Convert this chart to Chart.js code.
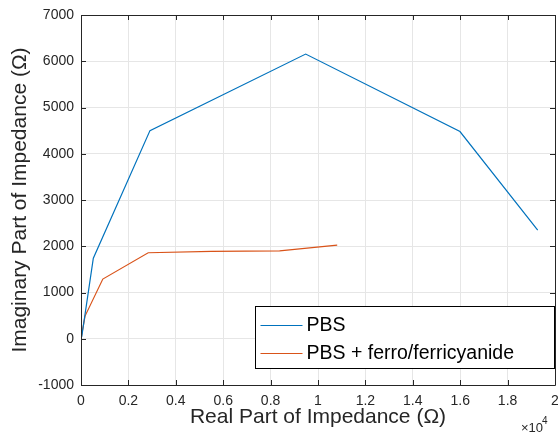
<!DOCTYPE html>
<html lang="en">
<head>
<meta charset="UTF-8" />
<title>Impedance</title>
<script src="https://cdn.jsdelivr.net/npm/chart.js"></script>
<style>
  html, body { margin: 0; padding: 0; background: #ffffff; }
  #wrap { width: 558px; height: 438px; }
</style>
</head>
<body>
<div id="wrap"><canvas id="nyquist" width="558" height="438"></canvas></div>
<script>
  // data (ohms)
  const pbsReal = [30, 520, 2910, 9480, 15990, 19270];
  const pbsImag = [40, 1740, 4500, 6155, 4480, 2350];
  const ferroReal = [0, 170, 920, 2835, 5500, 8380, 10810];
  const ferroImag = [0, 490, 1290, 1860, 1890, 1900, 2025];
  const seriesNames = ['PBS', 'PBS + ferro/ferricyanide'];
  const seriesColors = ['#0072BD', '#D95319'];
  const xTicks = [0, 2000, 4000, 6000, 8000, 10000, 12000, 14000, 16000, 18000, 20000];
  const yTicks = [-1000, 0, 1000, 2000, 3000, 4000, 5000, 6000, 7000];

  const tickColor = '#262626';
  const gridColor = '#e6e6e6';
  const fontFam = 'Arial, "Liberation Sans", sans-serif';

  function toPoints(xs, ys) {
    return xs.map((x, i) => ({ x: x, y: ys[i] }));
  }

  // box, inward ticks, legend and the x10^4 exponent
  const matlabFrame = {
    id: 'matlabFrame',
    afterDraw(chart) {
      const ctx = chart.ctx;
      const a = chart.chartArea;
      const xs = chart.scales.x, ys = chart.scales.y;
      ctx.save();
      ctx.strokeStyle = tickColor;
      ctx.lineWidth = 1;
      ctx.beginPath();
      ctx.rect(Math.round(a.left) + 0.5, Math.round(a.top) + 0.5,
               Math.round(a.right - a.left), Math.round(a.bottom - a.top));
      ctx.stroke();
      ctx.beginPath();
      xs.ticks.forEach(t => {
        const px = Math.round(xs.getPixelForValue(t.value)) + 0.5;
        ctx.moveTo(px, a.bottom); ctx.lineTo(px, a.bottom - 5);
        ctx.moveTo(px, a.top); ctx.lineTo(px, a.top + 5);
      });
      ys.ticks.forEach(t => {
        const py = Math.round(ys.getPixelForValue(t.value)) + 0.5;
        ctx.moveTo(a.left, py); ctx.lineTo(a.left + 5, py);
        ctx.moveTo(a.right, py); ctx.lineTo(a.right - 5, py);
      });
      ctx.stroke();

      // legend box in the lower right
      const bx = 255.5, by = 306.5, bw = 299, bh = 62;
      ctx.fillStyle = '#ffffff';
      ctx.fillRect(bx, by, bw, bh);
      ctx.strokeStyle = '#000000';
      ctx.strokeRect(bx, by, bw, bh);
      ctx.font = '19.5px ' + fontFam;
      ctx.textBaseline = 'middle';
      chart.data.datasets.forEach((ds, i) => {
        const cy = by + 18.5 + i * 28;
        ctx.strokeStyle = ds.borderColor;
        ctx.beginPath();
        ctx.moveTo(bx + 5, Math.round(cy) + 0.5);
        ctx.lineTo(bx + 47, Math.round(cy) + 0.5);
        ctx.stroke();
        ctx.fillStyle = '#000000';
        ctx.fillText(ds.label, bx + 51, cy + 1);
      });

      // exponent label
      ctx.fillStyle = tickColor;
      ctx.font = '13px ' + fontFam;
      ctx.textBaseline = 'alphabetic';
      ctx.fillText('\u00d710', 521, 432);
      ctx.font = '10px ' + fontFam;
      ctx.fillText('4', 542, 424);
      ctx.restore();
    }
  };

  new Chart(document.getElementById('nyquist'), {
    type: 'line',
    data: {
      datasets: [
        {
          label: seriesNames[0],
          data: toPoints(pbsReal, pbsImag),
          borderColor: seriesColors[0],
          backgroundColor: seriesColors[0],
          borderWidth: 1.2,
          pointRadius: 0,
          tension: 0,
          fill: false
        },
        {
          label: seriesNames[1],
          data: toPoints(ferroReal, ferroImag),
          borderColor: seriesColors[1],
          backgroundColor: seriesColors[1],
          borderWidth: 1.2,
          pointRadius: 0,
          tension: 0,
          fill: false
        }
      ]
    },
    options: {
      responsive: false,
      animation: false,
      layout: { padding: { top: 15, right: 3, left: 0, bottom: 0 } },
      plugins: {
        legend: { display: false },
        tooltip: { enabled: false }
      },
      scales: {
        x: {
          type: 'linear',
          min: xTicks[0],
          max: xTicks[xTicks.length - 1],
          afterBuildTicks(scale) { scale.ticks = xTicks.map(v => ({ value: v })); },
          afterFit(scale) {
            scale.height = 53;
            scale.paddingLeft = 0;
            scale.paddingRight = 0;
          },
          ticks: {
            color: tickColor,
            font: { size: 14, family: fontFam },
            padding: 8,
            maxRotation: 0,
            callback: v => String(Math.round(v / 1000) / 10)
          },
          grid: { color: gridColor, drawTicks: false },
          border: { display: false },
          title: {
            display: true,
            text: 'Real Part of Impedance (\u03a9)',
            color: '#262626',
            font: { size: 21, family: fontFam },
            padding: { top: 0, bottom: 8 }
          }
        },
        y: {
          type: 'linear',
          min: yTicks[0],
          max: yTicks[yTicks.length - 1],
          afterBuildTicks(scale) { scale.ticks = yTicks.map(v => ({ value: v })); },
          afterFit(scale) {
            scale.width = 81;
            scale.paddingTop = 0;
            scale.paddingBottom = 0;
          },
          ticks: {
            color: tickColor,
            font: { size: 14, family: fontFam },
            padding: 7,
            callback: v => String(v)
          },
          grid: { color: gridColor, drawTicks: false },
          border: { display: false },
          title: {
            display: true,
            text: 'Imaginary Part of Impedance (\u03a9)',
            color: '#262626',
            font: { size: 21, family: fontFam },
            padding: { top: 8, bottom: 0 }
          }
        }
      }
    },
    plugins: [matlabFrame]
  });
</script>
</body>
</html>
